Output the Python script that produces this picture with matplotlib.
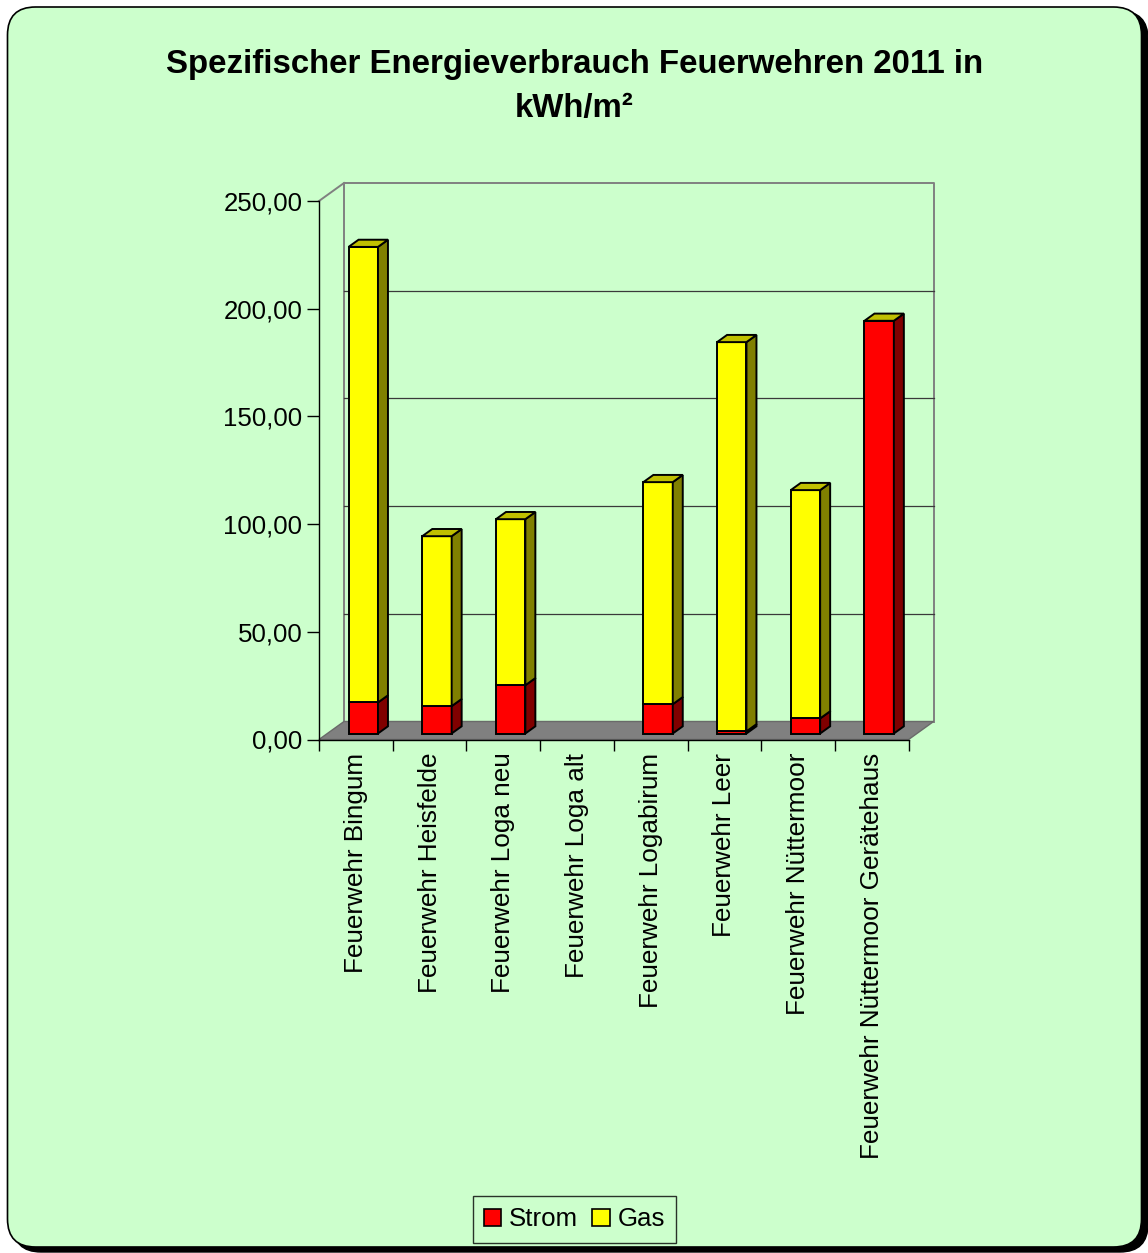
import matplotlib
matplotlib.use("Agg")
import matplotlib.pyplot as plt
from matplotlib.patches import Polygon, FancyBboxPatch, Patch
from matplotlib.ticker import FuncFormatter

plt.rcParams['font.family'] = ['Liberation Sans', 'DejaVu Sans']

# Data (kWh/m²)
categories = ['Feuerwehr Bingum', 'Feuerwehr Heisfelde', 'Feuerwehr Loga neu',
              'Feuerwehr Loga alt', 'Feuerwehr Logabirum', 'Feuerwehr Leer',
              'Feuerwehr Nüttermoor', 'Feuerwehr Nüttermoor Gerätehaus']
strom = [14.4, 12.7, 22.4, 0.0, 13.6, 1.0, 7.0, 191.6]
gas = [211.5, 78.9, 77.1, 0.0, 103.1, 180.7, 106.0, 0.0]
yticks = [0, 50, 100, 150, 200, 250]

W, H = 1148, 1253
BG = '#CCFFCC'
PX_CAT, PX_UNIT = 73.7, 2.154      # pixels per category / per kWh
DX, DY = 25 / PX_CAT, 18 / PX_UNIT  # depth of the "3D" box in data units
Z0, Z1 = 0.333, 0.733               # bar depth range (fraction of box depth)
BAR_X, BAR_W = 0.288, 0.399

COLORS = {
    'Strom': ('#FF0000', '#800000', '#C00000'),
    'Gas': ('#FFFF00', '#808000', '#C0C000'),
}

fig = plt.figure(figsize=(W / 100, H / 100), dpi=100)
fig.patch.set_facecolor('white')

# rounded card with shadow
bg = fig.add_axes([0, 0, 1, 1], zorder=-1)
bg.set_xlim(0, W)
bg.set_ylim(H, 0)
bg.axis('off')
bg.add_patch(FancyBboxPatch((13, 11), 1135, 1241,
                            boxstyle='round,pad=0,rounding_size=28',
                            fc='black', ec='black'))
bg.add_patch(FancyBboxPatch((7.5, 7), 1134, 1240,
                            boxstyle='round,pad=0,rounding_size=28',
                            fc=BG, ec='black', lw=1.2))

n = len(categories)
ymax = yticks[-1]
ax_w = (n + DX) * PX_CAT
ax_h = (ymax + DY) * PX_UNIT
ax = fig.add_axes([319 / W, 1 - 739.5 / H, ax_w / W, ax_h / H])
ax.set_facecolor('none')
ax.set_xlim(0, n + DX)
ax.set_ylim(0, ymax + DY)


def sh(x, y, z):
    return (x + z * DX, y + z * DY)


# walls and gridlines
wall = dict(color='#808080', lw=1.4, clip_on=False, zorder=1)
ax.plot([DX, DX, n + DX, n + DX], [DY, ymax + DY, ymax + DY, DY], **wall)
ax.plot([0, DX], [ymax, ymax + DY], **wall)
for v in yticks[1:-1]:
    ax.plot([DX, n + DX], [v + DY, v + DY], color='#3a3a3a', lw=0.9,
            clip_on=False, zorder=1)
ax.add_patch(Polygon([(0, 0), (n, 0), (n + DX, DY), (DX, DY)], closed=True,
                     fc='#808080', ec='#6a6a6a', lw=1.0, zorder=2,
                     clip_on=False))


def box(i, b, t, front, side, top=None):
    xl = i + BAR_X
    xr = xl + BAR_W
    kw = dict(closed=True, ec='black', lw=1.4, joinstyle='miter',
              zorder=3, clip_on=False)
    if t > b:
        ax.add_patch(Polygon([sh(xl, b, Z0), sh(xr, b, Z0), sh(xr, t, Z0),
                              sh(xl, t, Z0)], fc=front, **kw))
        ax.add_patch(Polygon([sh(xr, b, Z0), sh(xr, b, Z1), sh(xr, t, Z1),
                              sh(xr, t, Z0)], fc=side, **kw))
    if top is not None:
        ax.add_patch(Polygon([sh(xl, t, Z0), sh(xr, t, Z0), sh(xr, t, Z1),
                              sh(xl, t, Z1)], fc=top, **kw))


for i in range(n):
    total = strom[i] + gas[i]
    if total <= 0:
        continue
    box(i, 0, strom[i], *COLORS['Strom'][:2])
    box(i, strom[i], total, *COLORS['Gas'])

# front axes
for s in ['top', 'right']:
    ax.spines[s].set_visible(False)
ax.spines['left'].set_bounds(0, ymax)
ax.spines['bottom'].set_bounds(0, n)
for s in ['left', 'bottom']:
    ax.spines[s].set_color('black')
    ax.spines[s].set_linewidth(1.0)
    ax.spines[s].set_zorder(4)

ax.set_yticks(yticks)
ax.yaxis.set_major_formatter(FuncFormatter(lambda v, p: f'{v:.2f}'.replace('.', ',')))
ax.tick_params(axis='y', direction='out', length=8.5, width=1, pad=3.5,
               labelsize=18.6)
ax.set_xticks(range(n + 1))
ax.set_xticklabels([])
ax.set_xticks([i + 0.5 for i in range(n)], minor=True)
ax.set_xticklabels(categories, minor=True, rotation=90, va='top',
                   fontsize=18.8)
ax.tick_params(axis='x', which='major', direction='out', length=8, width=1)
ax.tick_params(axis='x', which='minor', length=0, pad=9.5)

# title
fig.text(574.5 / W, 1 - 73 / H,
         'Spezifischer Energieverbrauch Feuerwehren 2011 in',
         ha='center', va='baseline', fontsize=23.8, fontweight='bold')
fig.text(574.5 / W, 1 - 117 / H, 'kWh/m²', ha='center', va='baseline',
         fontsize=23.8, fontweight='bold')

# legend
handles = [Patch(fc=COLORS[k][0], ec='black', lw=1.2, label=k)
           for k in ['Strom', 'Gas']]
leg = fig.legend(handles=handles, loc='center', ncol=2,
                 bbox_to_anchor=(574.5 / W, 1 - 1219.5 / H),
                 fontsize=18.6, frameon=True, fancybox=False,
                 handlelength=0.66, handleheight=0.66, handletextpad=0.3,
                 columnspacing=0.55, borderpad=0.45, borderaxespad=0)
leg.get_frame().set_edgecolor('black')
leg.get_frame().set_facecolor('none')
leg.get_frame().set_linewidth(1.0)

fig.savefig('out.png', dpi=100, facecolor=fig.get_facecolor())
